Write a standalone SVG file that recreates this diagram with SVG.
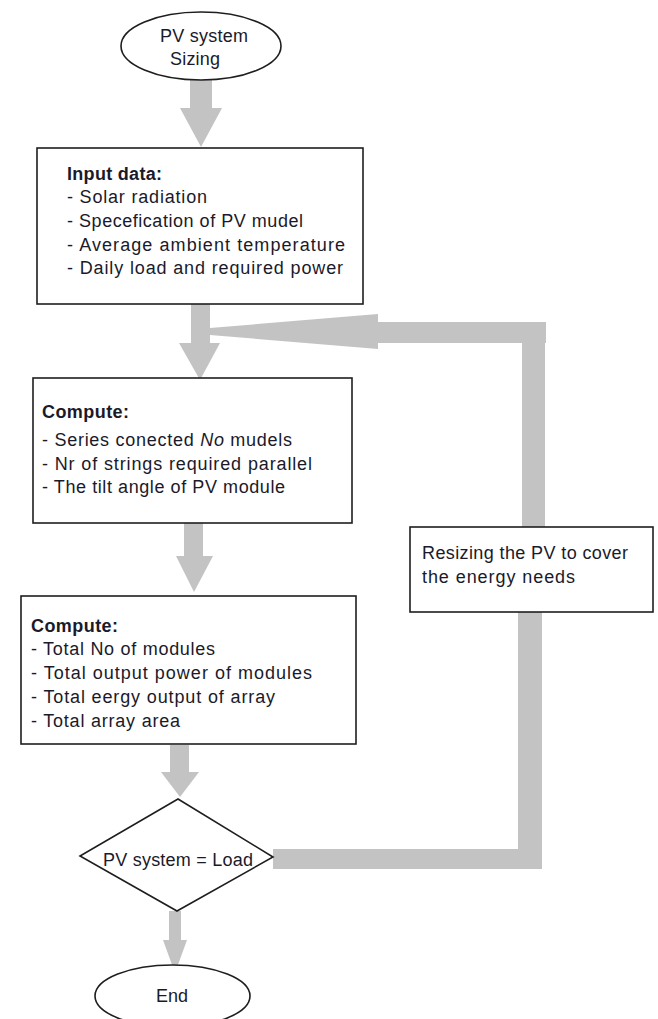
<svg xmlns="http://www.w3.org/2000/svg" width="658" height="1019" viewBox="0 0 658 1019">
<style>
.shape{fill:#fff;stroke:#1e1e1e;stroke-width:1.6}
.t{font-family:"Liberation Sans",Arial,sans-serif;font-size:18px;fill:#1a1a2a}
.b{font-weight:bold}
.conn{fill:#c3c3c3;stroke:none}
</style>
<rect width="658" height="1019" fill="#fff"/>
<g id="connectors">
<polygon class="conn" points="190,80 212,80 212,108 222,108 201,147 180,108 190,108"/>
<polygon class="conn" points="191,304 210,304 210,343 220,343 200,380 179,343 191,343"/>
<polygon class="conn" points="184,523 203,523 203,556 213,556 194,592 176,556 184,556"/>
<polygon class="conn" points="170,745 189,745 189,772 199,772 180,797 161,772 170,772"/>
<polygon class="conn" points="169,911 181,911 181,940 187,940 175,973 163,940 169,940"/>
<polygon class="conn" points="273,849 518,849 518,612 542,612 542,869 273,869"/>
<polygon class="conn" points="522,527 522,343 378,343 378,349 210,335 210,328 378,314 378,322 546,322 546,343 545,343 545,527"/>
</g>
<g id="start">
<ellipse class="shape" cx="201" cy="46" rx="80" ry="34"/>
<text class="t" x="160" y="42" textLength="88">PV system</text>
<text class="t" x="170" y="65" textLength="50">Sizing</text>
</g>
<g id="input">
<rect class="shape" x="37" y="148" width="326" height="156"/>
<text class="t b" x="67" y="180" textLength="95">Input data:</text>
<text class="t" x="67" y="203" textLength="140">- Solar radiation</text>
<text class="t" x="67" y="227" textLength="236">- Specefication of PV mudel</text>
<text class="t" x="67" y="251" textLength="278">- Average ambient temperature</text>
<text class="t" x="67" y="274" textLength="276">- Daily load and required power</text>
</g>
<g id="compute1">
<rect class="shape" x="33" y="378" width="319" height="145"/>
<text class="t b" x="42" y="418" textLength="87">Compute:</text>
<text class="t" x="42" y="446" textLength="250">- Series conected <tspan font-style="italic">No</tspan> mudels</text>
<text class="t" x="42" y="470" textLength="270">- Nr of strings required parallel</text>
<text class="t" x="42" y="493" textLength="243">- The tilt angle of PV module</text>
</g>
<g id="compute2">
<rect class="shape" x="21" y="596" width="335" height="148"/>
<text class="t b" x="31" y="632" textLength="87">Compute:</text>
<text class="t" x="31" y="655" textLength="184">- Total No of modules</text>
<text class="t" x="31" y="679" textLength="281">- Total output power of modules</text>
<text class="t" x="31" y="703" textLength="244">- Total eergy output of array</text>
<text class="t" x="31" y="727" textLength="149">- Total array area</text>
</g>
<g id="resize">
<rect class="shape" x="410" y="527" width="243" height="85"/>
<text class="t" x="422" y="559" textLength="206">Resizing the PV to cover</text>
<text class="t" x="422" y="583" textLength="153">the energy needs</text>
</g>
<g id="decision">
<polygon class="shape" points="178,799 273,857 177,911 80,856"/>
<text class="t" x="103" y="866" textLength="150">PV system = Load</text>
</g>
<g id="end">
<ellipse class="shape" cx="172.5" cy="996" rx="77.5" ry="31"/>
<text class="t" x="172" y="1002" text-anchor="middle">End</text>
</g>
</svg>
